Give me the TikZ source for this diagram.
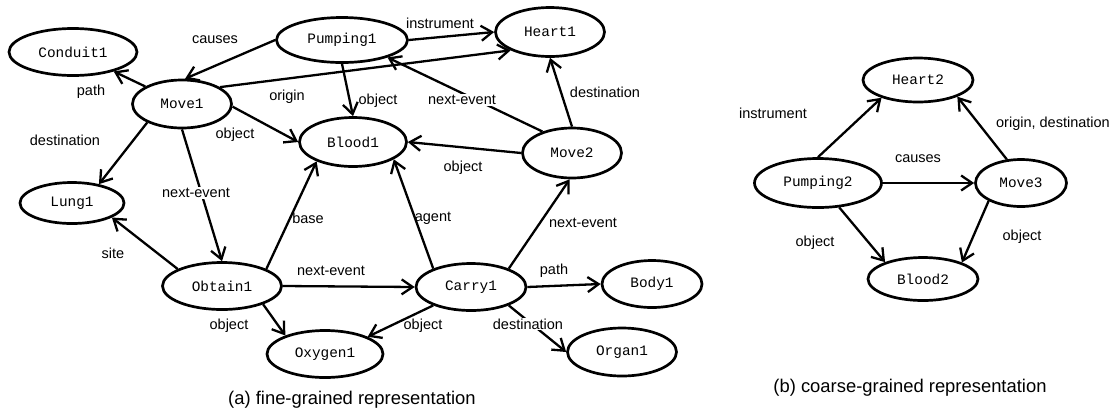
\documentclass[tikz,border=0pt]{standalone}
\usepackage{fontspec}
\setmainfont{Liberation Sans}
\newfontfamily\monofont{Liberation Mono}
\usetikzlibrary{shapes.geometric,arrows.meta}
\begin{document}
\begin{tikzpicture}[x=1pt,y=-1pt,
  ent/.style args={#1x#2}{ellipse,draw,line width=2.7pt,inner sep=0pt,
    minimum width=#1pt,minimum height=#2pt,font=\monofont\fontsize{14.4}{16}\selectfont},
  lbl/.style={inner sep=1pt,font=\fontsize{14.5}{16}\selectfont},
  lblw/.style={lbl,fill=white},
  captxt/.style={inner sep=0pt,font=\fontsize{18.4}{20}\selectfont},
  rel/.style={line width=2.3pt,-{Straight Barb[length=11pt,width=15pt,line width=2.3pt]}}]
\useasboundingbox (0,0) rectangle (1114,416);
% fine-grained
\node[ent=128x47] (Conduit1) at (73,52) {Conduit1};
\node[ent=99x48] (Move1) at (182,104) {Move1};
\node[ent=131x45] (Pumping1) at (342,40) {Pumping1};
\node[ent=107x49] (Blood1) at (353,142) {Blood1};
\node[ent=109x49] (Heart1) at (550,32) {Heart1};
\node[ent=99x50] (Move2) at (572,153) {Move2};
\node[ent=104x41] (Lung1) at (72,203) {Lung1};
\node[ent=119x47] (Obtain1) at (222,286) {Obtain1};
\node[ent=116x47] (Oxygen1) at (325,354) {Oxygen1};
\node[ent=110x47] (Carry1) at (471,287) {Carry1};
\node[ent=100x47] (Body1) at (652,284) {Body1};
\node[ent=109x48] (Organ1) at (622,352) {Organ1};
% coarse-grained
\node[ent=110x44] (Heart2) at (918,80) {Heart2};
\node[ent=127x49] (Pumping2) at (818,183) {Pumping2};
\node[ent=91x47] (Move3) at (1021,183) {Move3};
\node[ent=110x43] (Blood2) at (923,279) {Blood2};
% edges (a)
\draw[rel] (Pumping1.180) -- (Move1.83);
\draw[rel] (Pumping1.east) -- (Heart1.west);
\draw[rel] (Pumping1.south) -- (Blood1.north);
\draw[rel] (Move1.24) -- (Heart1.205);
\draw[rel] (Move1) -- (Conduit1);
\draw[rel] (Move1.208) -- (Lung1.35);
\draw[rel] (Move1.-3) -- (Blood1.west);
\draw[rel] (Move1.south) -- (Obtain1.north);
\draw[rel] (Obtain1.159) -- (Lung1.-20);
\draw[rel] (Obtain1.21) -- (Blood1.208);
\draw[rel] (Obtain1.east) -- (Carry1.west);
\draw[rel] (Obtain1.-24) -- (Oxygen1.155);
\draw[rel] (Carry1.154) -- (Blood1.-23);
\draw[rel] (Carry1.26) -- (Move2.265);
\draw[rel] (Carry1.east) -- (Body1.west);
\draw[rel] (Carry1.206) -- (Oxygen1.22);
\draw[rel] (Carry1.-26) -- (Organ1.west);
\draw[rel] (Move2.west) -- (Blood1.east);
\draw[rel] (Move2.north) -- (Heart1.south);
\draw[rel] (Move2.144) -- (Pumping1.339);
% edges (b)
\draw[rel] (Pumping2.north) -- (Heart2.206);
\draw[rel] (Pumping2.east) -- (Move3.west);
\draw[rel] (Pumping2.311) -- (Blood2.156);
\draw[rel] (Move3.121) -- (Heart2.-23);
\draw[rel] (Move3.209) -- (Blood2.23);
% labels (a)
\node[lbl] (l1) at (215,40) {causes};
\node[lbl] (l2) at (91,92) {path};
\node[lbl] (l3) at (287,97) {origin};
\node[lbl] (l4) at (235,135) {object};
\node[lbl] (l5) at (65,140) {destination};
\node[lblw] (l6) at (196,193) {next-event};
\node[lbl] (l7) at (378,101) {object};
\node[lbl] (l8) at (440,23) {instrument};
\node[lblw] (l9) at (462,100) {next-event};
\node[lbl] (l10) at (605,92) {destination};
\node[lbl] (l11) at (463,168) {object};
\node[lbl] (l12) at (308,218) {base};
\node[lbl] (l13) at (113,253) {site};
\node[lbl] (l14) at (331,271) {next-event};
\node[lbl] (l15) at (229,326) {object};
\node[lbl] (l16) at (433,218) {agent};
\node[lbl] (l17) at (583,223) {next-event};
\node[lbl] (l18) at (554,271) {path};
\node[lbl] (l19) at (423,326) {object};
\node[lblw] (l20) at (528,324) {destination};
% labels (b)
\node[lbl] (m1) at (773,113) {instrument};
\node[lbl] (m2) at (1053,124) {origin, destination};
\node[lbl] (m3) at (918,159) {causes};
\node[lbl] (m4) at (815,243) {object};
\node[lbl] (m5) at (1022,237) {object};
% captions
\node[captxt] (capa) at (352,400) {(a) fine-grained representation};
\node[captxt] (capb) at (910,388) {(b) coarse-grained representation};
\end{tikzpicture}
\end{document}
